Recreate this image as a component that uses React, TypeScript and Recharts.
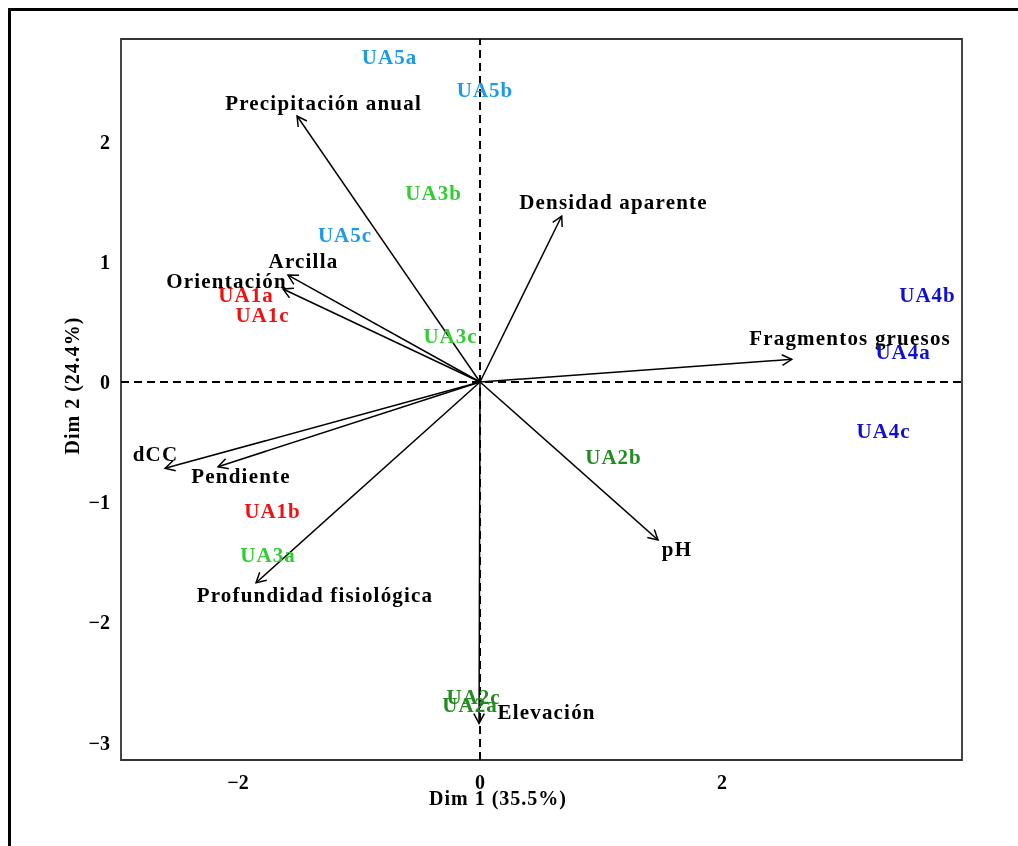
import React from 'react';
import {
  ScatterChart,
  Scatter,
  XAxis,
  YAxis,
  ReferenceLine,
  ReferenceArea,
} from 'recharts';

// ---- Data ----
const xDomain: [number, number] = [-2.967, 3.983];
const yDomain: [number, number] = [-3.145, 2.854];
const xTicks = [-2, 0, 2];
const yTicks = [-3, -2, -1, 0, 1, 2];

const variables = [
  'Precipitación anual',
  'Densidad aparente',
  'Arcilla',
  'Orientación',
  'Fragmentos gruesos',
  'dCC',
  'Pendiente',
  'Profundidad fisiológica',
  'pH',
  'Elevación',
];
const varX = [-1.512, 0.675, -1.587, -1.628, 2.576, -2.603, -2.165, -1.851, 1.471, -0.008];
const varY = [2.213, 1.381, 0.89, 0.774, 0.189, -0.718, -0.705, -1.67, -1.314, -2.84];
// label anchor points (data units)
const varLabelX = [-1.293, 1.103, -1.459, -2.095, 3.058, -2.682, -1.975, -1.364, 1.628, 0.55];
const varLabelY = [2.321, 1.502, 1.007, 0.844, 0.37, -0.595, -0.778, -1.768, -1.385, -2.741];

const individuals = [
  'UA1a', 'UA1b', 'UA1c',
  'UA2a', 'UA2b', 'UA2c',
  'UA3a', 'UA3b', 'UA3c',
  'UA4a', 'UA4b', 'UA4c',
  'UA5a', 'UA5b', 'UA5c',
];
const indX = [-1.934, -1.715, -1.798, -0.083, 1.103, -0.054, -1.752, -0.384, -0.244, 3.496, 3.698, 3.335, -0.748, 0.041, -1.116];
const indY = [0.724, -1.073, 0.561, -2.686, -0.62, -2.616, -1.435, 1.572, 0.387, 0.249, 0.728, -0.408, 2.708, 2.429, 1.227];
const groupColors: Record<string, string> = {
  UA1: '#EE1111',
  UA2: '#228B22',
  UA3: '#32CD32',
  UA4: '#1010D0',
  UA5: '#1E9AE8',
};

const varLabelData = variables.map((name, i) => ({ name, x: varLabelX[i], y: varLabelY[i] }));
const indData = individuals.map((name, i) => ({
  name,
  x: indX[i],
  y: indY[i],
  color: groupColors[name.slice(0, 3)],
}));

const FONT = '"Liberation Serif", "Times New Roman", serif';

const fmt = (v: number) => (v < 0 ? `\u2212${Math.abs(v)}` : `${v}`);

const ArrowShape = (props: any) => {
  const { x1, y1, x2, y2 } = props;
  const a = Math.atan2(y2 - y1, x2 - x1);
  const L = 11;
  const s = 0.5;
  const p1x = x2 - L * Math.cos(a - s);
  const p1y = y2 - L * Math.sin(a - s);
  const p2x = x2 - L * Math.cos(a + s);
  const p2y = y2 - L * Math.sin(a + s);
  return (
    <g>
      <line x1={x1} y1={y1} x2={x2} y2={y2} stroke="#000" strokeWidth={1.5} />
      <path
        d={`M${p1x},${p1y} L${x2},${y2} L${p2x},${p2y}`}
        fill="none"
        stroke="#000"
        strokeWidth={1.5}
      />
    </g>
  );
};

const VarLabel = (props: any) => {
  const { cx, cy, payload } = props;
  return (
    <text
      x={cx}
      y={cy}
      dy="0.35em"
      textAnchor="middle"
      fill="#000"
      fontFamily={FONT}
      fontWeight="bold"
      fontSize={21}
      letterSpacing={1.2}
    >
      {payload.name}
    </text>
  );
};

const IndLabel = (props: any) => {
  const { cx, cy, payload } = props;
  return (
    <text
      x={cx}
      y={cy}
      dy="0.35em"
      textAnchor="middle"
      fill={payload.color}
      fontFamily={FONT}
      fontWeight="bold"
      fontSize={21}
      letterSpacing={1}
    >
      {payload.name}
    </text>
  );
};

const tickStyle = {
  fill: '#000',
  fontSize: 20,
  fontWeight: 'bold',
  fontFamily: FONT,
};

const XTitle = (props: any) => {
  const { viewBox } = props;
  const { x, y, width } = viewBox;
  return (
    <text
      x={x + width / 2 - 43.5}
      y={y + 45}
      textAnchor="middle"
      fill="#000"
      fontFamily={FONT}
      fontWeight="bold"
      fontSize={20}
      letterSpacing={1}
    >
      Dim 1 (35.5%)
    </text>
  );
};

const YTitle = (props: any) => {
  const { viewBox } = props;
  const { x, y, height } = viewBox;
  const cx = x - 9;
  const cy = y + height / 2 - 14;
  return (
    <text
      x={cx}
      y={cy}
      dy="0.35em"
      transform={`rotate(-90, ${cx}, ${cy})`}
      textAnchor="middle"
      fill="#000"
      fontFamily={FONT}
      fontWeight="bold"
      fontSize={20}
      letterSpacing={1}
    >
      Dim 2 (24.4%)
    </text>
  );
};

export default function App() {
  return (
    <div
      style={{
        paddingLeft: 3,
        paddingTop: 3,
        width: 995,
        height: 825,
        background: '#fff',
      }}
    >
      <div
        style={{
          position: 'fixed',
          left: 8,
          top: 8,
          width: 1100,
          height: 1000,
          borderLeft: '3px solid #000',
          borderTop: '3px solid #000',
          pointerEvents: 'none',
        }}
      />
      <ScatterChart
        width={995}
        height={825}
        margin={{ top: 28, right: 44, bottom: 46, left: 70 }}
      >
        <XAxis
          type="number"
          dataKey="x"
          domain={xDomain}
          ticks={xTicks}
          tickFormatter={fmt}
          axisLine={false}
          tickLine={false}
          tickMargin={9}
          height={30}
          tick={tickStyle}
          allowDataOverflow
          label={<XTitle />}
        />
        <YAxis
          type="number"
          dataKey="y"
          domain={yDomain}
          ticks={yTicks}
          tickFormatter={fmt}
          axisLine={false}
          tickLine={false}
          tickMargin={5}
          width={40}
          tick={tickStyle}
          allowDataOverflow
          label={<YTitle />}
        />
        <ReferenceArea
          x1={xDomain[0]}
          x2={xDomain[1]}
          y1={yDomain[0]}
          y2={yDomain[1]}
          fill="none"
          fillOpacity={0}
          stroke="#333"
          strokeWidth={1.8}
        />
        <ReferenceLine x={0} stroke="#000" strokeWidth={2} strokeDasharray="8 5" />
        <ReferenceLine y={0} stroke="#000" strokeWidth={2} strokeDasharray="8 5" />
        {variables.map((name, i) => (
          <ReferenceLine
            key={name}
            segment={[
              { x: 0, y: 0 },
              { x: varX[i], y: varY[i] },
            ]}
            shape={ArrowShape}
          />
        ))}
        <Scatter data={varLabelData} shape={VarLabel} isAnimationActive={false} />
        <Scatter data={indData} shape={IndLabel} isAnimationActive={false} />
      </ScatterChart>
    </div>
  );
}
